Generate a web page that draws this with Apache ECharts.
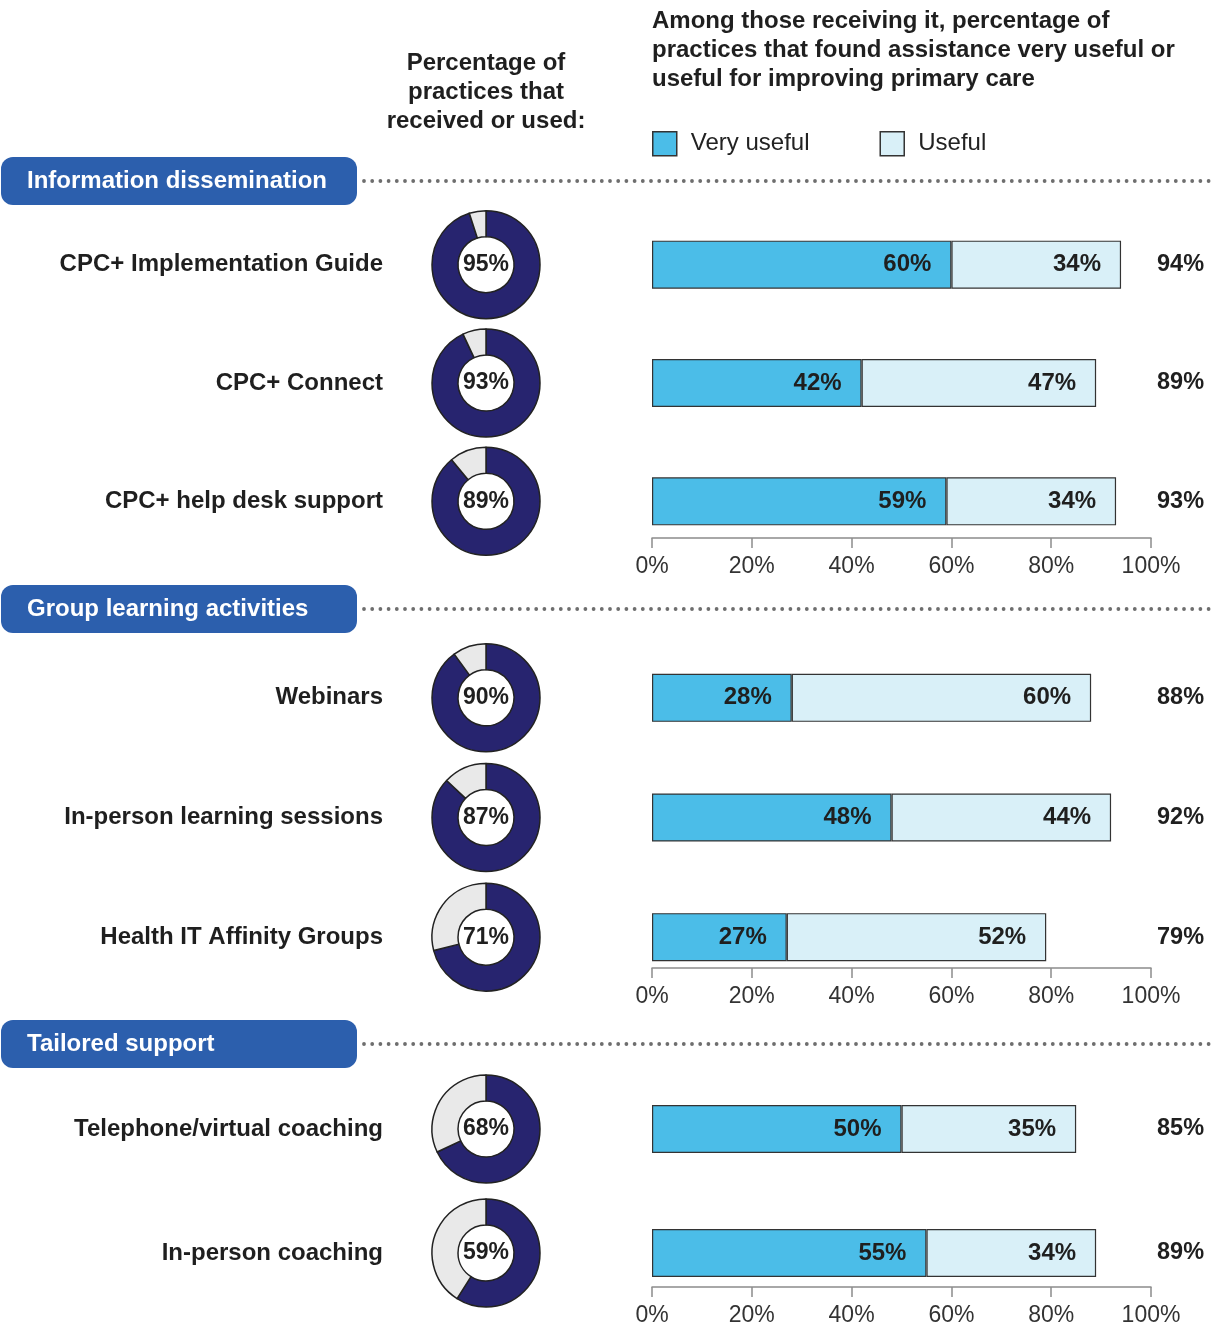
<!DOCTYPE html>
<html>
<head>
<meta charset="utf-8">
<script src="https://cdn.jsdelivr.net/npm/echarts@6/dist/echarts.min.js"></script>
<style>
  html, body { margin: 0; padding: 0; background: #fff; }
  #main { width: 1215px; height: 1325px; }
</style>
</head>
<body>
<div id="main"></div>
<script>
const sections = ['Information dissemination', 'Group learning activities', 'Tailored support'];
const items = [
  'CPC+ Implementation Guide', 'CPC+ Connect', 'CPC+ help desk support',
  'Webinars', 'In-person learning sessions', 'Health IT Affinity Groups',
  'Telephone/virtual coaching', 'In-person coaching'
];
const sectionOf = [0, 0, 0, 1, 1, 1, 2, 2];
const received = [95, 93, 89, 90, 87, 71, 68, 59];
const veryUseful = [60, 42, 59, 28, 48, 27, 50, 55];
const useful = [34, 47, 34, 60, 44, 52, 35, 34];
const seriesNames = ['Very useful', 'Useful'];

const FONT = '"Liberation Sans", Arial, sans-serif';
const DARK = '#1f1f1f';
const BLUE = '#4bbde8';
const LIGHT = '#d9f0f8';
const NAVY = '#27246f';
const HEADER_BLUE = '#2c5fad';

// layout of each block: grid top/height, x axis pulled up into grid, header line y
const blocks = [
  { top: 205.5, height: 355, offset: -22.5, header: 181 },
  { top: 638, height: 359, offset: -29, header: 609 },
  { top: 1067, height: 248, offset: -28, header: 1044 }
];

const chart = echarts.init(document.getElementById('main'));

const grids = [], xAxes = [], yAxes = [], bars = [];
blocks.forEach((b, s) => {
  const idx = items.map((_, i) => i).filter(i => sectionOf[i] === s);
  const names = idx.map(i => items[i]);
  const totals = idx.map(i => (veryUseful[i] + useful[i]) + '%');
  grids.push({ left: 652, width: 499, top: b.top, height: b.height, outerBoundsMode: 'none' });
  xAxes.push({
    gridIndex: s, type: 'value', min: 0, max: 100, interval: 20,
    position: 'bottom', offset: b.offset,
    axisLine: { show: true, lineStyle: { color: '#8c8c8c', width: 1.5 } },
    axisTick: { show: true, length: 10, lineStyle: { color: '#8c8c8c', width: 1.5 } },
    splitLine: { show: false },
    axisLabel: { formatter: '{value}%', fontSize: 23, color: '#333', fontFamily: FONT, margin: 17 }
  });
  yAxes.push({
    gridIndex: s, type: 'category', data: names, inverse: true,
    axisLine: { show: false }, axisTick: { show: false },
    axisLabel: { interval: 0, margin: 269, fontSize: 24, fontWeight: 'bold', color: DARK, fontFamily: FONT }
  });
  yAxes.push({
    gridIndex: s, type: 'category', data: totals, inverse: true, position: 'right',
    axisLine: { show: false }, axisTick: { show: false },
    axisLabel: { interval: 0, margin: 6, align: 'left', fontSize: 23.5, fontWeight: 'bold', color: DARK, fontFamily: FONT }
  });
  [veryUseful, useful].forEach((arr, k) => {
    bars.push({
      type: 'bar', name: seriesNames[k], stack: 'u' + s,
      xAxisIndex: s, yAxisIndex: 2 * s,
      barWidth: 48,
      data: idx.map(i => arr[i]),
      itemStyle: { color: k === 0 ? BLUE : LIGHT, borderColor: '#333', borderWidth: 1.2 },
      label: {
        show: true, position: 'insideRight', distance: 20,
        formatter: '{c}%', fontSize: 24, fontWeight: 'bold', color: DARK, fontFamily: FONT
      },
      emphasis: { disabled: true }
    });
  });
});

const graphics = [];
// column header over donuts
graphics.push({
  type: 'text',
  style: {
    text: 'Percentage of\npractices that\nreceived or used:', x: 486, y: 49,
    textAlign: 'center', font: 'bold 24px ' + FONT, lineHeight: 29, fill: DARK
  }
});
// title over bars
graphics.push({
  type: 'text',
  style: {
    text: 'Among those receiving it, percentage of\npractices that found assistance very useful or\nuseful for improving primary care',
    x: 652, y: 7, font: 'bold 24px ' + FONT, lineHeight: 29, fill: DARK
  }
});
blocks.forEach((b, s) => {
  graphics.push({
    type: 'rect', shape: { x: 1, y: b.header - 24, width: 356, height: 48, r: 12 },
    style: { fill: HEADER_BLUE }
  });
  graphics.push({
    type: 'text',
    style: {
      text: sections[s], x: 27, y: b.header, textVerticalAlign: 'middle',
      font: 'bold 24px ' + FONT, fill: '#fff'
    }
  });
  graphics.push({
    type: 'line', shape: { x1: 364, y1: b.header, x2: 1215, y2: b.header },
    style: { stroke: '#6e6e6e', lineWidth: 3.8, lineDash: [0, 8.2], lineCap: 'round' }
  });
});

const option = {
  backgroundColor: '#fff',
  animation: false,
  textStyle: { fontFamily: FONT },
  legend: {
    data: seriesNames, left: 652, top: 131, padding: 0,
    icon: 'rect', itemWidth: 24, itemHeight: 24, itemGap: 70,
    itemStyle: { borderColor: '#333', borderWidth: 1.5 },
    textStyle: { fontSize: 24, color: '#222', fontFamily: FONT, padding: [0, 0, 0, 9] },
    selectedMode: false
  },
  grid: grids,
  xAxis: xAxes,
  yAxis: yAxes,
  series: bars,
  graphic: graphics
};
chart.setOption(option);

// donuts sit on the same rows as the bars
const pies = items.map((name, i) => {
  const s = sectionOf[i];
  const cy = chart.convertToPixel({ yAxisIndex: 2 * s }, name);
  return {
    type: 'pie', radius: [28, 54], center: [486, cy],
    startAngle: 90, clockwise: true, silent: true,
    labelLine: { show: false },
    label: { show: false },
    itemStyle: { borderColor: '#222', borderWidth: 1.5 },
    data: [
      {
        value: received[i], itemStyle: { color: NAVY },
        label: {
          show: true, position: 'center', formatter: received[i] + '%',
          fontSize: 23, fontWeight: 'bold', color: DARK, fontFamily: FONT
        }
      },
      { value: 100 - received[i], itemStyle: { color: '#e9e9e9' } }
    ]
  };
});
chart.setOption({ series: bars.concat(pies) });
</script>
</body>
</html>
